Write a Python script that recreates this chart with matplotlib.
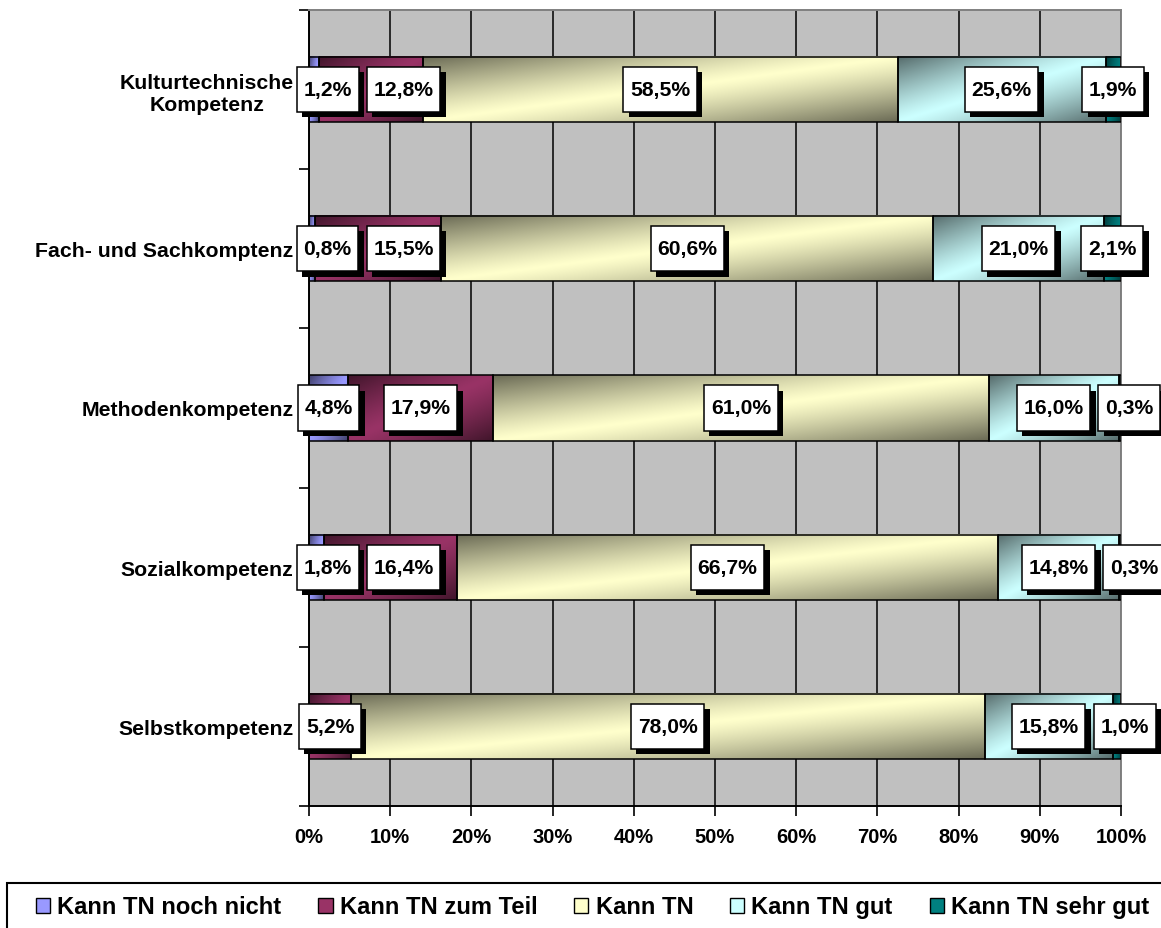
import numpy as np
import matplotlib
matplotlib.use("Agg")
import matplotlib.pyplot as plt
from matplotlib.patches import Patch, Rectangle
from matplotlib.path import Path
import matplotlib.patheffects as pe

plt.rcParams['font.family'] = ['Liberation Sans', 'DejaVu Sans']
plt.rcParams['font.weight'] = 'bold'

# data
categories = ["Kulturtechnische\nKompetenz", "Fach- und Sachkomptenz",
              "Methodenkompetenz", "Sozialkompetenz", "Selbstkompetenz"]
series_names = ["Kann TN noch nicht", "Kann TN zum Teil", "Kann TN",
                "Kann TN gut", "Kann TN sehr gut"]
noch_nicht = [1.2, 0.8, 4.8, 1.8, 0.0]
zum_teil = [12.8, 15.5, 17.9, 16.4, 5.2]
kann = [58.5, 60.6, 61.0, 66.7, 78.0]
gut = [25.6, 21.0, 16.0, 14.8, 15.8]
sehr_gut = [1.9, 2.1, 0.3, 0.3, 1.0]
colors = ["#9999FF", "#993366", "#FFFFCC", "#CCFFFF", "#008080"]

series = [noch_nicht, zum_teil, kann, gut, sehr_gut]
bar_h = 0.41


def gradient(color, nx=200, ny=40):
    # excel style diagonal gradient: dark in the corners, light in the middle
    base = np.array(matplotlib.colors.to_rgb(color))
    u = np.linspace(0, 1, nx)[None, :]
    v = np.linspace(0, 1, ny)[:, None]
    s = np.abs(u + v - 1.0) ** 1.2
    f = 1 - 0.58 * s
    return base[None, None, :] * f[:, :, None]


def label_box(x0, y0, width, height, mutation_size):
    # more padding top/bottom than left/right
    px = 0.32 * mutation_size
    py = 0.62 * mutation_size
    x0, y0 = x0 - px, y0 - py
    x1, y1 = x0 + width + 2 * px, y0 + height + 2 * py
    return Path([(x0, y0), (x1, y0), (x1, y1), (x0, y1), (x0, y0)], closed=True)


fig = plt.figure(figsize=(11.61, 9.29), dpi=100)
ax = fig.add_axes([0.2661, 0.1313, 0.6994, 0.8569])
ax.set_facecolor("#C0C0C0")

ypos = np.arange(len(categories))
left = np.zeros(len(categories))
labels = []
for vals, col in zip(series, colors):
    vals = np.array(vals)
    img = gradient(col)
    for i, (l, w) in enumerate(zip(left, vals)):
        if w <= 0:
            continue
        ax.imshow(img, extent=(l, l + w, ypos[i] + bar_h / 2, ypos[i] - bar_h / 2),
                  origin="upper", aspect="auto", zorder=2, interpolation="bilinear")
    ax.barh(ypos, vals, left=left, height=bar_h, facecolor="none",
            edgecolor="black", linewidth=1.1, zorder=3)
    for i, (l, w) in enumerate(zip(left, vals)):
        if w <= 0:
            continue
        t = ax.text(l + w / 2, ypos[i], f"{w:.1f}%".replace(".", ","),
                    ha="center", va="center", fontsize=15.2, fontweight="bold",
                    zorder=6, clip_on=False,
                    bbox=dict(boxstyle=label_box, facecolor="white",
                              edgecolor="black", linewidth=1.1))
        t.get_bbox_patch().set_path_effects(
            [pe.SimplePatchShadow(offset=(3.8, -3.8), shadow_rgbFace="black", alpha=1.0),
             pe.Normal()])
        labels.append((i, t))
    left = left + vals

ax.set_xlim(0, 100)
ax.set_ylim(len(categories) - 0.5, -0.5)

ax.set_xticks(np.arange(0, 101, 10))
ax.set_xticklabels([f"{x}%" for x in range(0, 101, 10)], fontsize=14.5, fontweight="bold")
ax.tick_params(axis="x", direction="out", length=7, width=1.2, pad=8)
ax.set_yticks(ypos)
ax.set_yticklabels(categories, fontsize=15.3, fontweight="bold")
for tl in ax.get_yticklabels():
    tl.set_multialignment("center")
ax.set_yticks(np.arange(-0.5, len(categories)), minor=True)
ax.tick_params(axis="y", which="major", length=0, pad=11)
ax.tick_params(axis="y", which="minor", direction="out", length=7, width=1.2)

ax.xaxis.grid(True, color="black", linewidth=1.1)
ax.set_axisbelow(True)
for side in ["left", "bottom"]:
    ax.spines[side].set_color("black")
    ax.spines[side].set_linewidth(1.4)
for side in ["top", "right"]:
    ax.spines[side].set_color("#808080")
    ax.spines[side].set_linewidth(1.4)

# push overlapping labels apart, like excel does
fig.canvas.draw()
px_per_unit = ax.get_window_extent().width / 100.0
gap = 1.0
for row in ypos:
    row_labels = [t for i, t in labels if i == row]
    prev_right = None
    for t in row_labels:
        bb = t.get_bbox_patch().get_window_extent()
        half = bb.width / 2 / px_per_unit
        x = t.get_position()[0]
        if x - half < -1.5:
            x = -1.5 + half
        if prev_right is not None and x - half < prev_right + gap:
            x = prev_right + gap + half
        t.set_x(x)
        prev_right = x + half

# legend with a frame running off the right edge
fig.add_artist(Rectangle((7 / 1161, -0.02), 1.2, (929 - 884) / 929 + 0.02,
                         transform=fig.transFigure, facecolor="white",
                         edgecolor="black", linewidth=1.5, zorder=1))
handles = [Patch(facecolor=c, edgecolor="black", linewidth=1.0) for c in colors]
fig.legend(handles, series_names, loc="center left",
           bbox_to_anchor=(36 / 1161, 1 - 908 / 929), ncol=5, frameon=False,
           handlelength=0.6, handleheight=0.6, handletextpad=0.3,
           columnspacing=1.55, borderpad=0, borderaxespad=0,
           prop=dict(weight="bold", size=17.1))

fig.savefig("out.png", dpi=100)
